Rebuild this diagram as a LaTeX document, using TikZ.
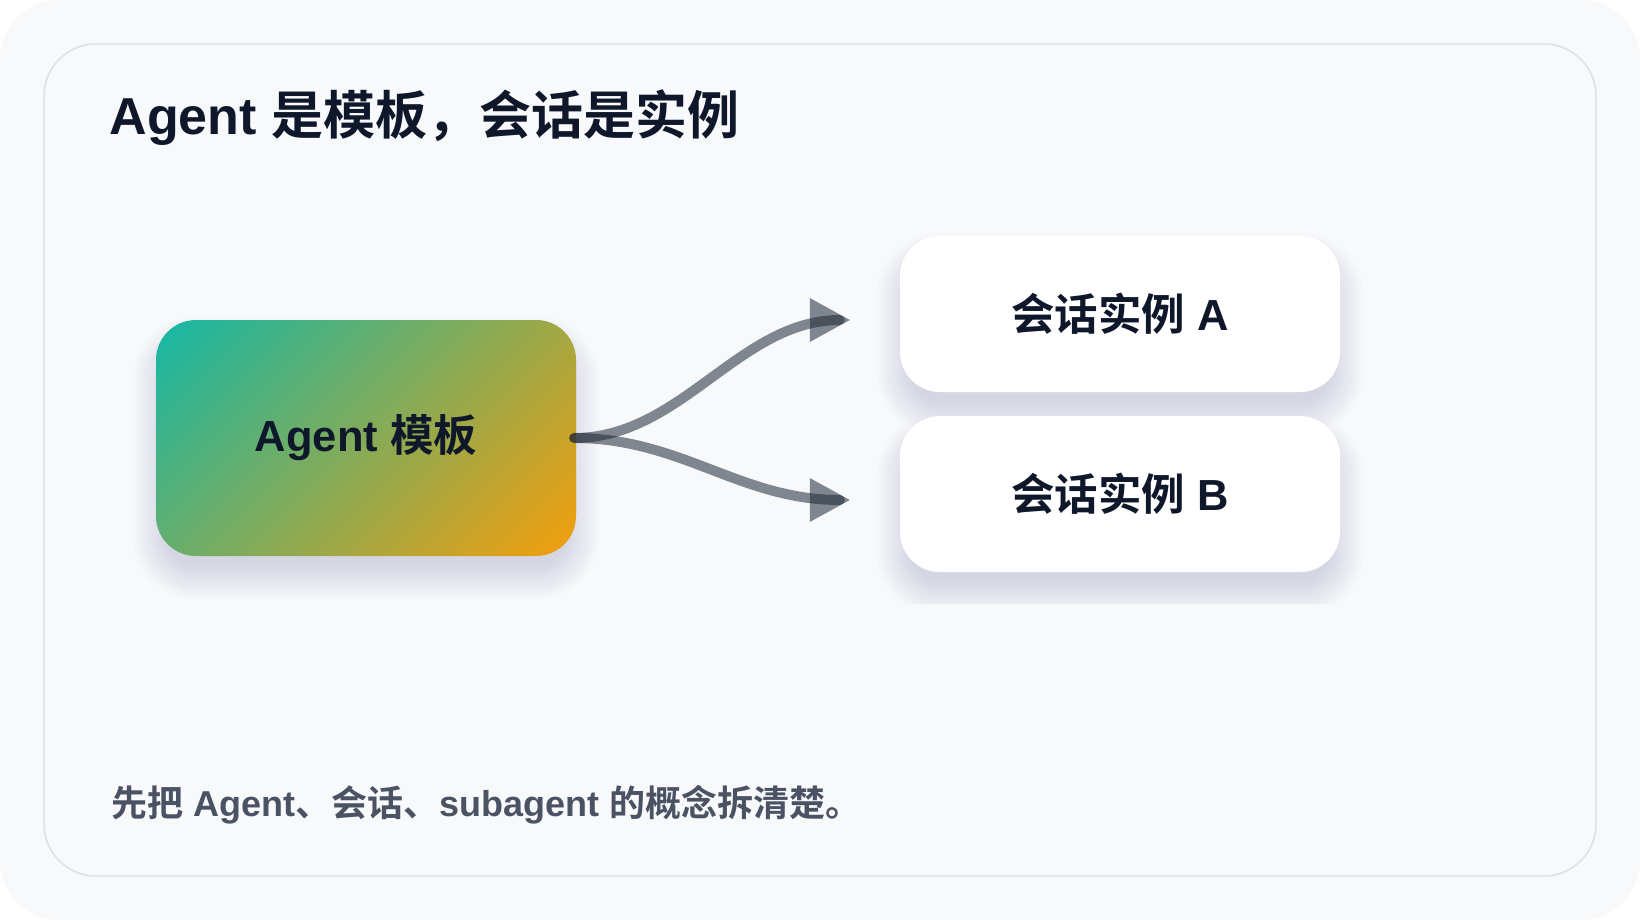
\documentclass[tikz,border=0pt]{standalone}
\usepackage{fontspec}
\usetikzlibrary{calc}
\newfontfamily\lat{Liberation Sans}
\newfontfamily\cjk{Noto Sans CJK SC}[BoldFont={Noto Sans CJK SC Bold}]
\newcommand{\zh}[1]{{\cjk\bfseries #1}}
\definecolor{pagebg}{HTML}{F8F9FB}
\definecolor{cardline}{HTML}{E2E4EA}
\definecolor{ink}{HTML}{0F172A}
\definecolor{subink}{HTML}{4B5263}
\definecolor{arrowc}{HTML}{1F2937}
\definecolor{shadowc}{HTML}{2A3352}
\definecolor{gA}{HTML}{14B8A6}
\definecolor{gB}{HTML}{F59E0B}
\pgfdeclarehorizontalshading{agentgrad}{100bp}{color(0bp)=(gA); color(14.6bp)=(gA); color(85.4bp)=(gB); color(100bp)=(gB)}
\pgfdeclarelayer{bglayer}
\pgfdeclarelayer{shadowlayer}
\pgfsetlayers{bglayer,shadowlayer,main}
\tikzset{
  card/.style={minimum width=420, minimum height=236, rounded corners=40, inner sep=0pt, font=\lat\bfseries\fontsize{43.5}{50}\selectfont, text=ink},
  inst/.style={minimum width=440, minimum height=156, rounded corners=40, inner sep=0pt, fill=white, font=\lat\bfseries\fontsize{43.5}{50}\selectfont, text=ink},
  flow/.style={draw=arrowc, line width=10pt, line cap=round, opacity=0.55},
  headtri/.style={fill=arrowc, opacity=0.55}
}
\begin{document}
\begin{tikzpicture}[x=1pt,y=-1pt]
\useasboundingbox (0,0) rectangle (1640,920);
\begin{pgfonlayer}{bglayer}
  \fill[white] (0,0) rectangle (1640,920);
  \fill[pagebg, rounded corners=60] (0,0) rectangle (1640,920);
  \draw[cardline, line width=2pt, fill=pagebg, rounded corners=52] (44,44) rectangle (1596,876);
\end{pgfonlayer}

\node[anchor=base west, text=ink, font=\lat\bfseries\fontsize{52}{60}\selectfont] (title) at (106,135) {Agent \zh{是模板，会话是实例}};

\node[card, shading=agentgrad, shading angle=-45] (T) at (366,438) {Agent \zh{模板}};
\node[inst] (A) at (1120,314) {\zh{会话实例} A};
\node[inst] (B) at (1120,494) {\zh{会话实例} B};

\begin{pgfonlayer}{shadowlayer}
  \begin{scope}
  \clip (0,0) rectangle (1640,603);
  \foreach \n in {T,A,B}{
    \foreach \i in {0,...,11}{
      \pgfmathsetmacro\d{-10+3*\i}
      \pgfmathsetmacro\r{max(40+\d,1)}
      \fill[shadowc, opacity=0.011, rounded corners=\r pt]
        ($(\n.north west)+(-\d,-\d+20)$) rectangle ($(\n.south east)+(\d,\d+20)$);
    }
  }
  \end{scope}
\end{pgfonlayer}

\node[anchor=base west, text=subink, font=\lat\bfseries\fontsize{36}{42}\selectfont] (foot) at (108,816) {\zh{先把} Agent\zh{、会话、}subagent \zh{的概念拆清楚。}};

\coordinate (tipA) at ($(A.west)+(-50,6)$);
\coordinate (tipB) at ($(B.west)+(-50,6)$);
\coordinate (endA) at ($(tipA)+(-10,0)$);
\coordinate (endB) at ($(tipB)+(-10,0)$);
\coordinate (start) at ($(T.east)+(-2,0)$);

\draw[flow] (start) .. controls +(107,0) and +(-100,0) .. (endA);
\draw[flow] (start) .. controls +(107,0) and +(-100,0) .. (endB);
\fill[headtri] (tipA) -- ++(-40,-22) -- ++(0,44) -- cycle;
\fill[headtri] (tipB) -- ++(-40,-22) -- ++(0,44) -- cycle;
\end{tikzpicture}
\end{document}
